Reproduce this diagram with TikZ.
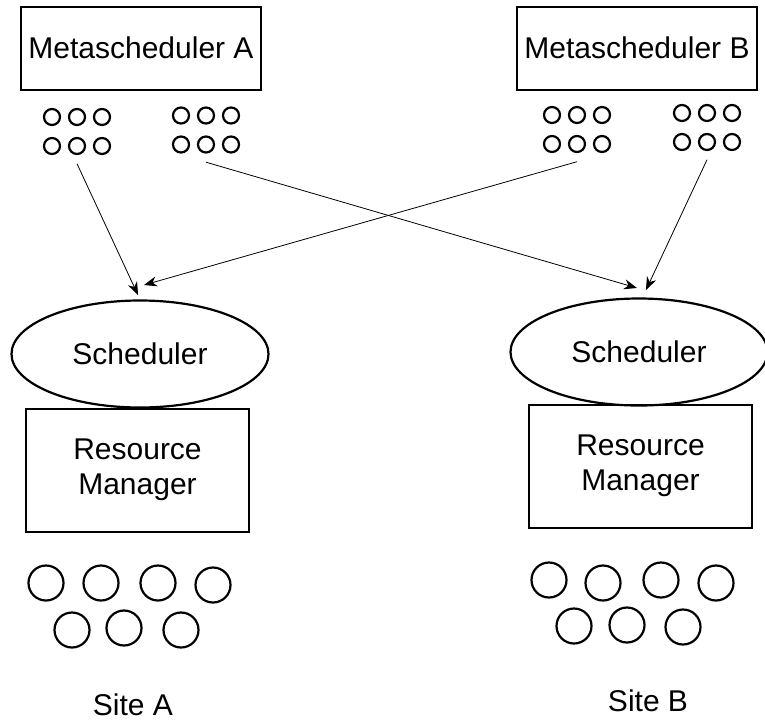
\documentclass[tikz,border=0pt]{standalone}
\usepackage{fontspec}
\setmainfont{Liberation Sans}
\usetikzlibrary{arrows.meta}
\usetikzlibrary{shapes}

\begin{document}
\begin{tikzpicture}[x=1pt,y=-1pt,
  every node/.style={font=\fontsize{30}{35}\selectfont},
  metabox/.style={draw,line width=2pt,minimum width=240pt,minimum height=83pt,inner sep=0pt},
  rmbox/.style={draw,line width=2pt,minimum width=223pt,minimum height=123pt,inner sep=0pt,align=center},
  sched/.style={draw,ellipse,line width=2.2pt,minimum width=257pt,minimum height=107pt,inner sep=0pt},
  dotgroup/.style={minimum width=76pt,minimum height=64pt,inner sep=0pt},
  smalldot/.style={draw,circle,line width=2.2pt,minimum size=16pt,inner sep=0pt},
  host/.style={draw,circle,line width=2.2pt,minimum size=35pt,inner sep=0pt},
  feed/.style={-{Stealth[length=13pt,width=10pt]},line width=0.8pt}]
\useasboundingbox (0,0) rectangle (765,721);
%
\node[metabox] (metaA) at (141,48) {Metascheduler A};
\node[metabox] (metaB) at (637,48) {Metascheduler B};
%
\node[dotgroup] (ga1) at (77,131.5) {};
\node[dotgroup] (ga2) at (206,130) {};
\node[dotgroup] (gb1) at (577,129.5) {};
\node[dotgroup] (gb2) at (707,127.5) {};
\foreach \g in {ga1,ga2,gb1,gb2}
  \foreach \i/\dx in {1/-25,2/0,3/25}
    \foreach \j/\dy in {1/-14.5,2/14.5}
      \node[smalldot] (\g-\i\j) at ([shift={(\dx,\dy)}]\g) {};
%
\node[sched] (schedA) at (140,354) {Scheduler};
\node[sched] (schedB) at (639,352) {Scheduler};
\node[rmbox] (rmA) at (137.5,470) {Resource\\Manager};
\node[rmbox] (rmB) at (640.5,466) {Resource\\Manager};
%
\node[host] (ha1) at (46,583) {};
\node[host] (ha2) at (101,583) {};
\node[host] (ha3) at (158,583) {};
\node[host] (ha4) at (213,585) {};
\node[host] (ha5) at (72,630) {};
\node[host] (ha6) at (124,628) {};
\node[host] (ha7) at (181,630) {};
\node[host] (hb1) at (549,580) {};
\node[host] (hb2) at (603,583) {};
\node[host] (hb3) at (661,580) {};
\node[host] (hb4) at (716,583) {};
\node[host] (hb5) at (574,626) {};
\node[host] (hb6) at (627,625) {};
\node[host] (hb7) at (683,627) {};
%
\node (siteA) at (133,705) {Site A};
\node (siteB) at (648,701) {Site B};
%
\coordinate (inA1) at (138,295);
\coordinate (inA2) at (144,285);
\coordinate (inB1) at (637,288);
\coordinate (inB2) at (646,290);
\draw[feed] (ga1.south) -- (inA1);
\draw[feed] (ga2.south) -- (inB1);
\draw[feed] (gb1.south) -- (inA2);
\draw[feed] (gb2.south) -- (inB2);
%
\end{tikzpicture}
\end{document}
